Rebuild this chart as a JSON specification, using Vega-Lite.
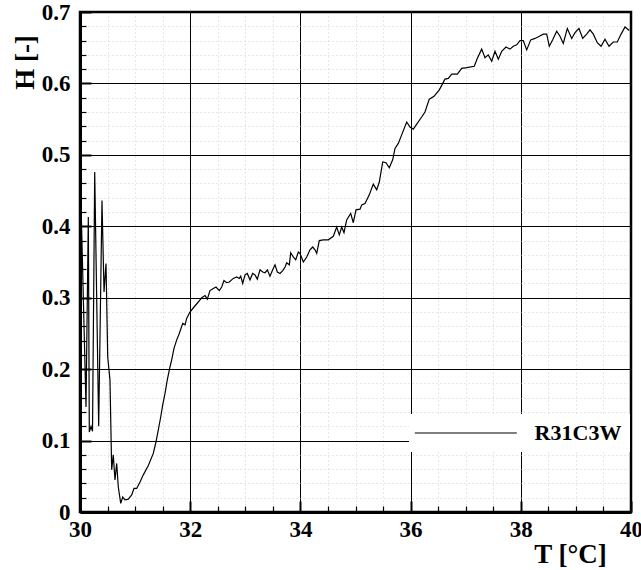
{
  "$schema": "https://vega.github.io/schema/vega-lite/v6.json",
  "autosize": {"type": "none"},
  "padding": {"left": 80, "top": 12, "right": 10, "bottom": 58},
  "width": 551,
  "height": 500,
  "background": "white",
  "config": {
    "view": {"stroke": "black", "strokeWidth": 2.5},
    "axis": {
      "labelFont": "Liberation Serif",
      "labelFontWeight": "bold",
      "labelColor": "black",
      "titleFont": "Liberation Serif",
      "titleFontWeight": "bold",
      "titleColor": "black",
      "domainColor": "black",
      "domainWidth": 3,
      "tickColor": "black"
    }
  },
  "data": {"values": [
    {"T": 30.000, "H": 0.490, "series": "R31C3W"},
    {"T": 30.109, "H": 0.147, "series": "R31C3W"},
    {"T": 30.151, "H": 0.413, "series": "R31C3W"},
    {"T": 30.169, "H": 0.112, "series": "R31C3W"},
    {"T": 30.200, "H": 0.120, "series": "R31C3W"},
    {"T": 30.227, "H": 0.113, "series": "R31C3W"},
    {"T": 30.267, "H": 0.476, "series": "R31C3W"},
    {"T": 30.339, "H": 0.120, "series": "R31C3W"},
    {"T": 30.399, "H": 0.436, "series": "R31C3W"},
    {"T": 30.436, "H": 0.308, "series": "R31C3W"},
    {"T": 30.472, "H": 0.348, "series": "R31C3W"},
    {"T": 30.503, "H": 0.217, "series": "R31C3W"},
    {"T": 30.544, "H": 0.185, "series": "R31C3W"},
    {"T": 30.575, "H": 0.059, "series": "R31C3W"},
    {"T": 30.604, "H": 0.080, "series": "R31C3W"},
    {"T": 30.635, "H": 0.045, "series": "R31C3W"},
    {"T": 30.666, "H": 0.068, "series": "R31C3W"},
    {"T": 30.695, "H": 0.035, "series": "R31C3W"},
    {"T": 30.739, "H": 0.012, "series": "R31C3W"},
    {"T": 30.775, "H": 0.021, "series": "R31C3W"},
    {"T": 30.817, "H": 0.017, "series": "R31C3W"},
    {"T": 30.877, "H": 0.018, "series": "R31C3W"},
    {"T": 30.938, "H": 0.024, "series": "R31C3W"},
    {"T": 30.980, "H": 0.033, "series": "R31C3W"},
    {"T": 31.029, "H": 0.033, "series": "R31C3W"},
    {"T": 31.089, "H": 0.042, "series": "R31C3W"},
    {"T": 31.149, "H": 0.052, "series": "R31C3W"},
    {"T": 31.240, "H": 0.065, "series": "R31C3W"},
    {"T": 31.330, "H": 0.082, "series": "R31C3W"},
    {"T": 31.379, "H": 0.098, "series": "R31C3W"},
    {"T": 31.421, "H": 0.115, "series": "R31C3W"},
    {"T": 31.465, "H": 0.133, "series": "R31C3W"},
    {"T": 31.501, "H": 0.150, "series": "R31C3W"},
    {"T": 31.543, "H": 0.166, "series": "R31C3W"},
    {"T": 31.584, "H": 0.185, "series": "R31C3W"},
    {"T": 31.633, "H": 0.203, "series": "R31C3W"},
    {"T": 31.664, "H": 0.213, "series": "R31C3W"},
    {"T": 31.706, "H": 0.229, "series": "R31C3W"},
    {"T": 31.755, "H": 0.241, "series": "R31C3W"},
    {"T": 31.802, "H": 0.250, "series": "R31C3W"},
    {"T": 31.864, "H": 0.264, "series": "R31C3W"},
    {"T": 31.906, "H": 0.262, "series": "R31C3W"},
    {"T": 31.936, "H": 0.271, "series": "R31C3W"},
    {"T": 31.996, "H": 0.280, "series": "R31C3W"},
    {"T": 32.069, "H": 0.287, "series": "R31C3W"},
    {"T": 32.147, "H": 0.294, "series": "R31C3W"},
    {"T": 32.209, "H": 0.300, "series": "R31C3W"},
    {"T": 32.269, "H": 0.303, "series": "R31C3W"},
    {"T": 32.311, "H": 0.298, "series": "R31C3W"},
    {"T": 32.359, "H": 0.310, "series": "R31C3W"},
    {"T": 32.419, "H": 0.313, "series": "R31C3W"},
    {"T": 32.468, "H": 0.315, "series": "R31C3W"},
    {"T": 32.528, "H": 0.310, "series": "R31C3W"},
    {"T": 32.572, "H": 0.315, "series": "R31C3W"},
    {"T": 32.613, "H": 0.324, "series": "R31C3W"},
    {"T": 32.662, "H": 0.321, "series": "R31C3W"},
    {"T": 32.710, "H": 0.322, "series": "R31C3W"},
    {"T": 32.782, "H": 0.327, "series": "R31C3W"},
    {"T": 32.844, "H": 0.329, "series": "R31C3W"},
    {"T": 32.891, "H": 0.327, "series": "R31C3W"},
    {"T": 32.917, "H": 0.330, "series": "R31C3W"},
    {"T": 32.953, "H": 0.320, "series": "R31C3W"},
    {"T": 32.995, "H": 0.332, "series": "R31C3W"},
    {"T": 33.036, "H": 0.334, "series": "R31C3W"},
    {"T": 33.085, "H": 0.325, "series": "R31C3W"},
    {"T": 33.134, "H": 0.334, "series": "R31C3W"},
    {"T": 33.176, "H": 0.332, "series": "R31C3W"},
    {"T": 33.218, "H": 0.326, "series": "R31C3W"},
    {"T": 33.267, "H": 0.339, "series": "R31C3W"},
    {"T": 33.316, "H": 0.336, "series": "R31C3W"},
    {"T": 33.358, "H": 0.335, "series": "R31C3W"},
    {"T": 33.400, "H": 0.339, "series": "R31C3W"},
    {"T": 33.448, "H": 0.330, "series": "R31C3W"},
    {"T": 33.497, "H": 0.339, "series": "R31C3W"},
    {"T": 33.539, "H": 0.346, "series": "R31C3W"},
    {"T": 33.581, "H": 0.336, "series": "R31C3W"},
    {"T": 33.630, "H": 0.334, "series": "R31C3W"},
    {"T": 33.679, "H": 0.338, "series": "R31C3W"},
    {"T": 33.721, "H": 0.343, "series": "R31C3W"},
    {"T": 33.751, "H": 0.349, "series": "R31C3W"},
    {"T": 33.799, "H": 0.346, "series": "R31C3W"},
    {"T": 33.824, "H": 0.363, "series": "R31C3W"},
    {"T": 33.871, "H": 0.357, "series": "R31C3W"},
    {"T": 33.915, "H": 0.353, "series": "R31C3W"},
    {"T": 33.962, "H": 0.364, "series": "R31C3W"},
    {"T": 33.993, "H": 0.362, "series": "R31C3W"},
    {"T": 34.053, "H": 0.350, "series": "R31C3W"},
    {"T": 34.114, "H": 0.357, "series": "R31C3W"},
    {"T": 34.174, "H": 0.367, "series": "R31C3W"},
    {"T": 34.223, "H": 0.371, "series": "R31C3W"},
    {"T": 34.265, "H": 0.367, "series": "R31C3W"},
    {"T": 34.296, "H": 0.362, "series": "R31C3W"},
    {"T": 34.343, "H": 0.380, "series": "R31C3W"},
    {"T": 34.416, "H": 0.381, "series": "R31C3W"},
    {"T": 34.506, "H": 0.381, "series": "R31C3W"},
    {"T": 34.597, "H": 0.386, "series": "R31C3W"},
    {"T": 34.659, "H": 0.399, "series": "R31C3W"},
    {"T": 34.706, "H": 0.388, "series": "R31C3W"},
    {"T": 34.750, "H": 0.399, "series": "R31C3W"},
    {"T": 34.791, "H": 0.391, "series": "R31C3W"},
    {"T": 34.840, "H": 0.409, "series": "R31C3W"},
    {"T": 34.913, "H": 0.418, "series": "R31C3W"},
    {"T": 34.960, "H": 0.405, "series": "R31C3W"},
    {"T": 35.009, "H": 0.423, "series": "R31C3W"},
    {"T": 35.082, "H": 0.424, "series": "R31C3W"},
    {"T": 35.113, "H": 0.430, "series": "R31C3W"},
    {"T": 35.172, "H": 0.432, "series": "R31C3W"},
    {"T": 35.250, "H": 0.444, "series": "R31C3W"},
    {"T": 35.323, "H": 0.459, "series": "R31C3W"},
    {"T": 35.385, "H": 0.451, "series": "R31C3W"},
    {"T": 35.432, "H": 0.462, "series": "R31C3W"},
    {"T": 35.494, "H": 0.490, "series": "R31C3W"},
    {"T": 35.554, "H": 0.489, "series": "R31C3W"},
    {"T": 35.613, "H": 0.482, "series": "R31C3W"},
    {"T": 35.675, "H": 0.493, "series": "R31C3W"},
    {"T": 35.717, "H": 0.509, "series": "R31C3W"},
    {"T": 35.777, "H": 0.516, "series": "R31C3W"},
    {"T": 35.838, "H": 0.528, "series": "R31C3W"},
    {"T": 35.929, "H": 0.546, "series": "R31C3W"},
    {"T": 35.989, "H": 0.539, "series": "R31C3W"},
    {"T": 36.049, "H": 0.536, "series": "R31C3W"},
    {"T": 36.111, "H": 0.543, "series": "R31C3W"},
    {"T": 36.201, "H": 0.553, "series": "R31C3W"},
    {"T": 36.261, "H": 0.560, "series": "R31C3W"},
    {"T": 36.339, "H": 0.578, "series": "R31C3W"},
    {"T": 36.425, "H": 0.582, "series": "R31C3W"},
    {"T": 36.521, "H": 0.591, "series": "R31C3W"},
    {"T": 36.624, "H": 0.606, "series": "R31C3W"},
    {"T": 36.684, "H": 0.607, "series": "R31C3W"},
    {"T": 36.746, "H": 0.613, "series": "R31C3W"},
    {"T": 36.848, "H": 0.613, "series": "R31C3W"},
    {"T": 36.927, "H": 0.621, "series": "R31C3W"},
    {"T": 37.018, "H": 0.622, "series": "R31C3W"},
    {"T": 37.156, "H": 0.624, "series": "R31C3W"},
    {"T": 37.210, "H": 0.635, "series": "R31C3W"},
    {"T": 37.290, "H": 0.648, "series": "R31C3W"},
    {"T": 37.350, "H": 0.636, "series": "R31C3W"},
    {"T": 37.410, "H": 0.640, "series": "R31C3W"},
    {"T": 37.472, "H": 0.631, "series": "R31C3W"},
    {"T": 37.532, "H": 0.645, "series": "R31C3W"},
    {"T": 37.592, "H": 0.634, "series": "R31C3W"},
    {"T": 37.653, "H": 0.645, "series": "R31C3W"},
    {"T": 37.731, "H": 0.651, "series": "R31C3W"},
    {"T": 37.804, "H": 0.648, "series": "R31C3W"},
    {"T": 37.864, "H": 0.652, "series": "R31C3W"},
    {"T": 37.926, "H": 0.654, "series": "R31C3W"},
    {"T": 37.985, "H": 0.660, "series": "R31C3W"},
    {"T": 38.045, "H": 0.660, "series": "R31C3W"},
    {"T": 38.107, "H": 0.647, "series": "R31C3W"},
    {"T": 38.180, "H": 0.661, "series": "R31C3W"},
    {"T": 38.258, "H": 0.663, "series": "R31C3W"},
    {"T": 38.336, "H": 0.666, "series": "R31C3W"},
    {"T": 38.408, "H": 0.669, "series": "R31C3W"},
    {"T": 38.470, "H": 0.669, "series": "R31C3W"},
    {"T": 38.517, "H": 0.652, "series": "R31C3W"},
    {"T": 38.579, "H": 0.661, "series": "R31C3W"},
    {"T": 38.651, "H": 0.673, "series": "R31C3W"},
    {"T": 38.711, "H": 0.666, "series": "R31C3W"},
    {"T": 38.771, "H": 0.656, "series": "R31C3W"},
    {"T": 38.844, "H": 0.677, "series": "R31C3W"},
    {"T": 38.924, "H": 0.663, "series": "R31C3W"},
    {"T": 38.984, "H": 0.671, "series": "R31C3W"},
    {"T": 39.056, "H": 0.677, "series": "R31C3W"},
    {"T": 39.123, "H": 0.663, "series": "R31C3W"},
    {"T": 39.196, "H": 0.669, "series": "R31C3W"},
    {"T": 39.256, "H": 0.675, "series": "R31C3W"},
    {"T": 39.316, "H": 0.669, "series": "R31C3W"},
    {"T": 39.388, "H": 0.657, "series": "R31C3W"},
    {"T": 39.456, "H": 0.652, "series": "R31C3W"},
    {"T": 39.528, "H": 0.662, "series": "R31C3W"},
    {"T": 39.601, "H": 0.652, "series": "R31C3W"},
    {"T": 39.679, "H": 0.658, "series": "R31C3W"},
    {"T": 39.751, "H": 0.658, "series": "R31C3W"},
    {"T": 39.813, "H": 0.668, "series": "R31C3W"},
    {"T": 39.891, "H": 0.679, "series": "R31C3W"},
    {"T": 39.969, "H": 0.674, "series": "R31C3W"}
  ]},
  "mark": {"type": "line", "strokeWidth": 1.2, "clip": true},
  "encoding": {
    "x": {
      "field": "T", "type": "quantitative",
      "scale": {"domain": [30, 40], "nice": false, "zero": false},
      "axis": {
        "values": [30, 30.5, 31, 31.5, 32, 32.5, 33, 33.5, 34, 34.5, 35, 35.5, 36, 36.5, 37, 37.5, 38, 38.5, 39, 39.5, 40],
        "grid": true,
        "gridColor": {"condition": {"test": "datum.value % 2 === 0", "value": "#000000"}, "value": "#cfcfcf"},
        "gridDash": {"condition": {"test": "datum.value % 2 === 0", "value": []}, "value": [1, 3]},
        "gridWidth": 1,
        "tickSize": {"condition": {"test": "datum.value % 2 === 0", "value": -11}, "value": -6},
        "tickWidth": {"condition": {"test": "datum.value % 2 === 0", "value": 2}, "value": 1.2},
        "labelExpr": "datum.value % 2 === 0 ? '' + datum.value : ''",
        "labelFontSize": 23,
        "labelPadding": 17,
        "labelFlush": false,
        "labelOverlap": false,
        "title": "T [°C]",
        "titleFontSize": 27,
        "titleX": 490,
        "titleY": 50,
        "titleAlign": "center",
        "titleBaseline": "alphabetic",
        "titleAnchor": null
      }
    },
    "y": {
      "field": "H", "type": "quantitative",
      "scale": {"domain": [0, 0.7], "nice": false},
      "axis": {
        "values": [0, 0.02, 0.04, 0.06, 0.08, 0.1, 0.12, 0.14, 0.16, 0.18, 0.2, 0.22, 0.24, 0.26, 0.28, 0.3, 0.32, 0.34, 0.36, 0.38, 0.4, 0.42, 0.44, 0.46, 0.48, 0.5, 0.52, 0.54, 0.56, 0.58, 0.6, 0.62, 0.64, 0.66, 0.68, 0.7],
        "grid": true,
        "gridColor": {"condition": {"test": "abs(datum.value*10 - round(datum.value*10)) < 0.001", "value": "#000000"}, "value": "#cfcfcf"},
        "gridDash": {"condition": {"test": "abs(datum.value*10 - round(datum.value*10)) < 0.001", "value": []}, "value": [1, 3]},
        "gridWidth": 1,
        "tickSize": {"condition": {"test": "abs(datum.value*10 - round(datum.value*10)) < 0.001", "value": -11}, "value": -6},
        "tickWidth": {"condition": {"test": "abs(datum.value*10 - round(datum.value*10)) < 0.001", "value": 2}, "value": 1.2},
        "labelExpr": "abs(datum.value*10 - round(datum.value*10)) < 0.001 ? '' + (round(datum.value*10)/10) : ''",
        "labelFontSize": 23,
        "labelPadding": 21,
        "labelFlush": false,
        "labelOverlap": false,
        "title": "H [-]",
        "titleFontSize": 27,
        "titleAngle": 270,
        "titleX": -55,
        "titleY": 50,
        "titleAlign": "center",
        "titleBaseline": "middle",
        "titleAnchor": null
      }
    },
    "color": {
      "field": "series", "type": "nominal",
      "scale": {"range": ["black"]},
      "legend": {
        "title": null,
        "orient": "none",
        "legendX": 329,
        "legendY": 402,
        "fillColor": "white",
        "padding": 8,
        "symbolType": "M-1.29,0H8.71",
        "symbolSize": 416,
        "symbolStrokeWidth": 1.2,
        "symbolStrokeColor": "black",
        "symbolFillColor": "transparent",
        "labelFont": "Liberation Serif",
        "labelFontWeight": "bold",
        "labelFontSize": 22,
        "labelColor": "black",
        "labelOffset": 95.6,
        "labelLimit": 200
      }
    }
  }
}
